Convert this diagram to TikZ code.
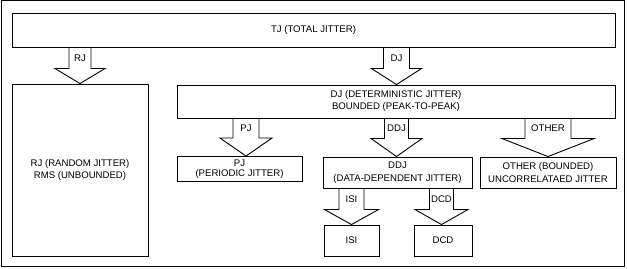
\documentclass[tikz,border=0pt]{standalone}
\usepackage{fontspec}
\setmainfont{Liberation Sans}
\usetikzlibrary{calc}
\tikzset{
  box/.style={draw=black, line width=0.9pt, inner sep=0pt, align=center,
    font=\fontsize{9.6}{12}\selectfont},
  fat/.style={draw=black, line width=0.9pt, line join=miter},
  lab/.style={inner sep=0pt, font=\fontsize{9.6}{12}\selectfont},
}
% #1 source node, #2 target node, #3 x centre, #4 shaft half width,
% #5 head half width, #6 head length, #7 label
\newcommand\fatarrow[7]{%
  \draw[fat] let \p1=(#1.south), \p2=(#2.north) in
    (#3pt-#4pt,\y1) -- (#3pt-#4pt,\y2+#6pt) -- (#3pt-#5pt,\y2+#6pt) -- (#3pt,\y2)
    -- (#3pt+#5pt,\y2+#6pt) -- (#3pt+#4pt,\y2+#6pt) -- (#3pt+#4pt,\y1);
  \path let \p1=(#1.south), \p2=(#2.north) in
    node[lab] at (#3pt, {(\y1+\y2+#6pt)/2}) {#7};
}
\begin{document}
\begin{tikzpicture}[x=1pt,y=1pt]
\useasboundingbox (0,0) rectangle (627,268);
\draw[line width=1pt] (1,1.5) rectangle (624.5,267);

\node[box, minimum width=603, minimum height=34] (tj) at (313.5,238) {TJ (TOTAL JITTER)};
\node[box, minimum width=136, minimum height=172] (rj) at (80,98) {RJ (RANDOM JITTER)\\RMS (UNBOUNDED)};
\node[box, minimum width=438, minimum height=33] (dj) at (396,166.5) {DJ (DETERMINISTIC JITTER)\\BOUNDED (PEAK-TO-PEAK)};
\node[box, minimum width=125, minimum height=25, font=\fontsize{9.6}{10.5}\selectfont] (pj) at (239.5,99) {PJ\\(PERIODIC JITTER)};
\node[box, minimum width=149, minimum height=31, font=\fontsize{9.6}{13.5}\selectfont] (ddj) at (397.5,95.5) {DDJ\\(DATA-DEPENDENT JITTER)};
\node[box, minimum width=136, minimum height=31, font=\fontsize{9.6}{13.5}\selectfont] (other) at (548,95.5) {OTHER (BOUNDED)\\UNCORRELATAED JITTER};
\node[box, minimum width=55, minimum height=31] (isi) at (351.5,27.5) {ISI};
\node[box, minimum width=58, minimum height=31] (dcd) at (443,27.5) {DCD};

\fatarrow{tj}{rj}{80}{11}{25}{15}{RJ}
\fatarrow{tj}{dj}{396.5}{13}{25}{16}{DJ}
\fatarrow{dj}{pj}{246}{13}{26}{18}{PJ}
\fatarrow{dj}{ddj}{396.5}{12}{25.5}{18}{DDJ}
\fatarrow{dj}{other}{548}{23}{46}{18}{OTHER}
\fatarrow{ddj}{isi}{351.5}{12.5}{27}{15}{ISI}
\fatarrow{ddj}{dcd}{441.5}{12}{26.5}{15}{DCD}
\end{tikzpicture}
\end{document}
